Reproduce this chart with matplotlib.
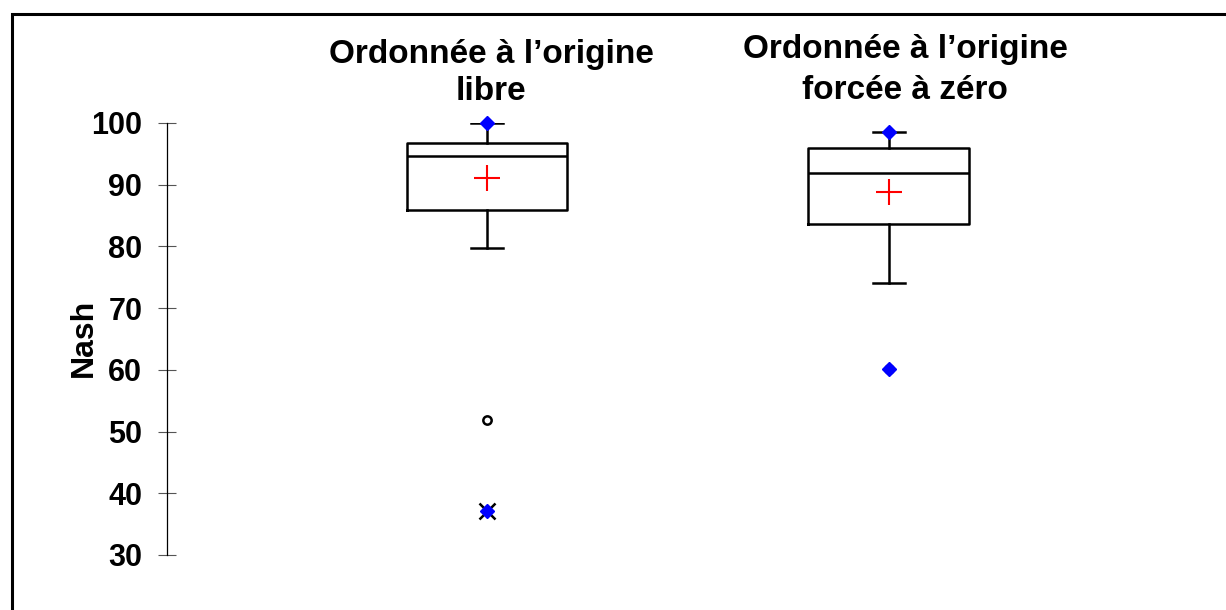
import matplotlib
matplotlib.use("Agg")
import matplotlib.pyplot as plt
from matplotlib.patches import Rectangle

plt.rcParams['font.family'] = ['Liberation Sans', 'DejaVu Sans']

# ---- data ----
groups = ["Ordonnée à l\u2019origine\nlibre", "Ordonnée à l\u2019origine\nforcée à zéro"]
q1 = [85.9, 83.6]
median = [94.7, 91.9]
q3 = [96.8, 96.0]
whisker_low = [79.7, 74.1]
whisker_high = [100.0, 98.5]
means = [91.1, 88.8]
minimum = [37.1, 60.1]
maximum = [100.0, 98.5]
outliers_circle = [[51.9], [60.1]]
outliers_star = [[37.1], []]
yticks = [30, 40, 50, 60, 70, 80, 90, 100]
ylabel = "Nash"

W, H = 1226, 610
fig = plt.figure(figsize=(W / 100, H / 100), dpi=100)

# axes placement in pixels
left_px, right_px, top_px, bottom_px = 167, 1167, 123, 555
ax = fig.add_axes([left_px / W, 1 - bottom_px / H, (right_px - left_px) / W, (bottom_px - top_px) / H])

positions = [1, 2]
stats = []
for i in range(2):
    stats.append(dict(med=median[i], q1=q1[i], q3=q3[i],
                      whislo=whisker_low[i], whishi=whisker_high[i],
                      fliers=[], label=""))

lw = 1.8
ax.bxp(stats, positions=positions, widths=0.40, showfliers=False,
       boxprops=dict(color='black', linewidth=lw),
       medianprops=dict(color='black', linewidth=lw),
       whiskerprops=dict(color='black', linewidth=lw),
       capprops=dict(color='black', linewidth=lw),
       capwidths=0.08, manage_ticks=False)

for i, p in enumerate(positions):
    for v in outliers_circle[i]:
        ax.plot([p], [v], marker='o', markersize=6, markerfacecolor='white',
                markeredgecolor='black', markeredgewidth=1.8, linestyle='none',
                clip_on=False, zorder=4)
    for v in outliers_star[i]:
        ax.plot([p], [v], marker='x', markersize=12, color='black',
                markeredgewidth=1.8, linestyle='none', clip_on=False, zorder=4)
    ax.plot([p], [means[i]], marker='+', markersize=19, color='red',
            markeredgewidth=1.5, linestyle='none', clip_on=False, zorder=5)
    ax.plot([p, p], [minimum[i], maximum[i]], marker='D', markersize=7.5,
            color='blue', linestyle='none', clip_on=False, zorder=6)

ax.set_xlim(0.204, 2.692)
ax.set_ylim(30, 100)
ax.set_yticks(yticks)
ax.set_yticklabels([str(t) for t in yticks], fontsize=22, fontweight='bold')
ax.tick_params(axis='y', direction='inout', length=13.5, width=0.8,
               color='#555555', pad=11)
ax.set_xticks([])
for s in ['top', 'right', 'bottom']:
    ax.spines[s].set_visible(False)
ax.spines['left'].set_linewidth(0.9)
ax.patch.set_visible(False)

# y label
fig.text(84 / W, 1 - 338 / H, ylabel, rotation=90, ha='center', va='center',
         fontsize=23, fontweight='bold')

# titles
fig.text(491 / W, 1 - 73 / H, groups[0], ha='center', va='center',
         fontsize=24, fontweight='bold', linespacing=1.24)
fig.text(905 / W, 1 - 70 / H, groups[1], ha='center', va='center',
         fontsize=24, fontweight='bold', linespacing=1.38)

# outer frame (extends beyond right/bottom edges)
fig.patches.append(Rectangle((11.5 / W, -0.05), 1.2, 1 + 0.05 - 14.5 / H,
                             transform=fig.transFigure, fill=False,
                             edgecolor='black', linewidth=2.2))

fig.savefig("out.png", dpi=100)
